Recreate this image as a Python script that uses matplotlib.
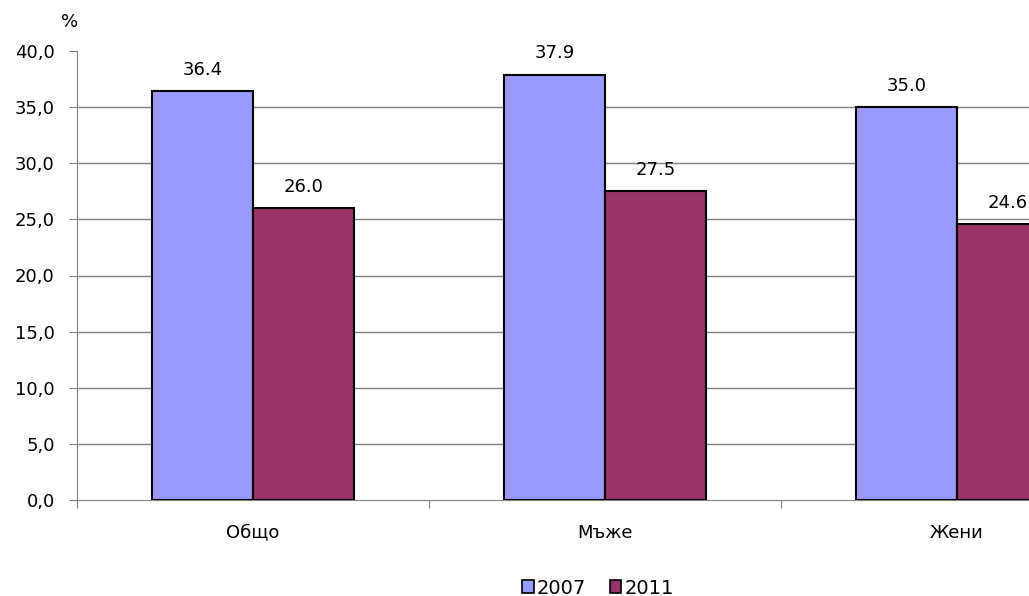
import numpy as np
import matplotlib.pyplot as plt
from matplotlib.patches import Patch

# data
categories = ['Общо', 'Мъже', 'Жени']
years = ['2007', '2011']
values_2007 = [36.4, 37.9, 35.0]
values_2011 = [26.0, 27.5, 24.6]
colors = ['#9999FF', '#993366']

plt.rcParams['font.family'] = ['DejaVu Sans']
fs = 13

fig = plt.figure(figsize=(10.29, 5.96), dpi=100)
# axes runs off the right edge, like the original
ax = fig.add_axes([77 / 1029, 1 - 500 / 596, 1 - 77 / 1029, (500 - 51) / 596])

x = np.arange(len(categories))
w = 0.287
ax.bar(x - w / 2, values_2007, w, color=colors[0], edgecolor='black', linewidth=1.5, zorder=3)
ax.bar(x + w / 2, values_2011, w, color=colors[1], edgecolor='black', linewidth=1.5, zorder=3)

for xi, v in zip(x - w / 2, values_2007):
    ax.text(xi, v + 1.1, f'{v:.1f}', ha='center', va='bottom', fontsize=fs)
for xi, v in zip(x + w / 2, values_2011):
    ax.text(xi, v + 1.1, f'{v:.1f}', ha='center', va='bottom', fontsize=fs)

yt = np.arange(0, 41, 5)
ax.set_yticks(yt)
ax.set_yticklabels([f'{v:.1f}'.replace('.', ',') for v in yt], fontsize=fs)
for v in yt[1:-1]:
    ax.axhline(v, color='#808080', linewidth=1, zorder=1)

# category separators as ticks, labels in the middle
ax.set_xticks(np.arange(-0.5, 3, 1.0))
ax.set_xticklabels([])
ax.set_xticks(x, minor=True)
ax.set_xticklabels(categories, minor=True, fontsize=fs)
ax.tick_params(axis='x', which='minor', length=0, pad=17)
ax.tick_params(axis='x', which='major', length=6, color='#808080', direction='out')
ax.tick_params(axis='y', length=6, color='#808080', direction='out', pad=10)

ax.set_ylim(0, 40)
ax.set_xlim(-0.5, -0.5 + (1029 - 77) / 352)

for s in ['top', 'right']:
    ax.spines[s].set_visible(False)
ax.spines['left'].set_color('#808080')
ax.spines['bottom'].set_color('#808080')

fig.text(70 / 1029, 1 - 22 / 596, '%', ha='center', va='center', fontsize=fs)

handles = [Patch(facecolor=c, edgecolor='black', linewidth=1.2) for c in colors]
fig.legend(handles, years, loc='center', bbox_to_anchor=(598 / 1029, 1 - 588 / 596), ncol=2,
           frameon=False, fontsize=14, handlelength=0.6, handleheight=0.6,
           handletextpad=0.15, columnspacing=1.2, borderpad=0)

fig.savefig('out.png', dpi=100)
